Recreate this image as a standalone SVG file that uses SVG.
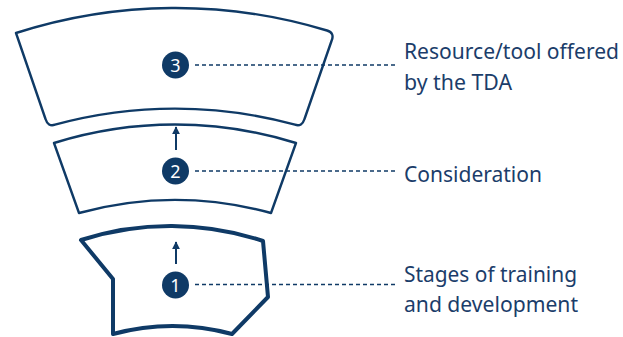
<svg xmlns="http://www.w3.org/2000/svg" width="623" height="337" viewBox="0 0 623 337">
<defs>
<style>
.shape{fill:#ffffff;stroke:#0f3a66;stroke-linejoin:round}
.dash{stroke:#0f3a66;stroke-width:1.5;stroke-dasharray:4 3;fill:none}
.arrow{stroke:#0f3a66;stroke-width:2;fill:none}
.badge{fill:#0f3a66}
.num{fill:#ffffff;font-family:"Noto Sans","Open Sans",sans-serif;font-size:18px;text-anchor:middle}
.label{fill:#1b3d6a;font-family:"Noto Sans","Open Sans",sans-serif;font-size:21px}
</style>
<marker id="ah" viewBox="0 0 10 10" refX="9" refY="5" markerWidth="4" markerHeight="4" orient="auto" markerUnits="strokeWidth">
<path d="M0,0 L10,5 L0,10 Z" fill="#0f3a66"/>
</marker>
</defs>
<rect width="623" height="337" fill="#ffffff"/>
<g id="stage3">
<path class="shape" stroke-width="2.4" d="M16,33 A520,520 0 0 1 327,30.5 Q335,33 331.5,41 L304.5,119 Q302,127 295,124.7 A457,457 0 0 0 55,124.7 Q48,127 45.5,119 Z"/>
<circle class="badge" cx="175.5" cy="65" r="13.5"/>
<text class="num" x="175.5" y="71.5">3</text>
</g>
<g id="stage2">
<path class="shape" stroke-width="2.4" d="M54,143 A405,405 0 0 1 296,143 L271,213 A365,365 0 0 0 79,213 Z"/>
<circle class="badge" cx="175.5" cy="171" r="13.5"/>
<text class="num" x="175.5" y="177.5">2</text>
</g>
<g id="stage1">
<path class="shape" stroke-width="4" d="M81,240 A293,293 0 0 1 263,241 L268,297 L232,334 A230,230 0 0 0 113,334 L113,279 Z"/>
<circle class="badge" cx="175.5" cy="285" r="13.5"/>
<text class="num" x="175.5" y="291.5">1</text>
</g>
<g id="connectors">
<line class="arrow" x1="176" y1="150" x2="176" y2="127" marker-end="url(#ah)"/>
<line class="arrow" x1="176" y1="264" x2="176" y2="242" marker-end="url(#ah)"/>
<line class="dash" x1="195" y1="65" x2="396" y2="65"/>
<line class="dash" x1="195" y1="171" x2="396" y2="171"/>
<line class="dash" x1="195" y1="284.5" x2="396" y2="284.5"/>
</g>
<g id="labels">
<text class="label" x="404" y="59" textLength="215" lengthAdjust="spacingAndGlyphs">Resource/tool offered</text>
<text class="label" x="404" y="90" textLength="108" lengthAdjust="spacingAndGlyphs">by the TDA</text>
<text class="label" x="404" y="182" textLength="138" lengthAdjust="spacingAndGlyphs">Consideration</text>
<text class="label" x="404" y="282" textLength="173" lengthAdjust="spacingAndGlyphs">Stages of training</text>
<text class="label" x="404" y="312" textLength="174" lengthAdjust="spacingAndGlyphs">and development</text>
</g>
</svg>
